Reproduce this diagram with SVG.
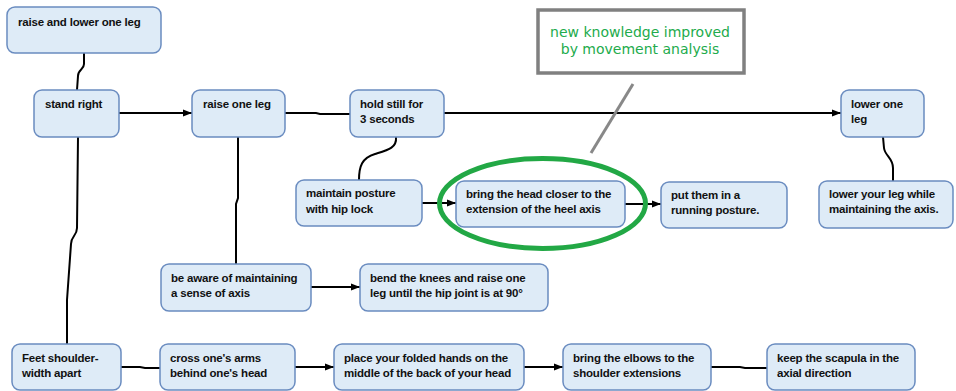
<svg xmlns="http://www.w3.org/2000/svg" width="956" height="391" viewBox="0 0 956 391">
<style>
.n rect{fill:#deebf7;stroke:#6a8cc0;stroke-width:1.5}
.n text{font-family:"Liberation Sans",Arial,sans-serif;font-weight:bold;font-size:11.5px;letter-spacing:-0.2px;fill:#111}
.c path{fill:none;stroke:#000;stroke-width:2}
.a{marker-end:url(#ah)}
.note text{font-family:"DejaVu Sans",sans-serif;font-size:14px;fill:#22ab4c;text-anchor:middle}
</style>
<defs>
<marker id="ah" viewBox="0 0 10 10" refX="10" refY="5" markerWidth="4.5" markerHeight="4.5" orient="auto" markerUnits="strokeWidth">
<path d="M0,1 L10,5 L0,9 z" fill="#000"/>
</marker>
</defs>
<rect width="956" height="391" fill="#fff"/>
<g class="c" id="connectors">
<path d="M84,53 L84,64 C84,70 78,69 78,76 L77,90"/>
<path class="a" d="M119,113 L192,113"/>
<path d="M285,113 L316,113 L320,114 L350,114"/>
<path class="a" d="M444,113 L841,113"/>
<path d="M396,137 C397,148 388,150 375,154 C362,158 359,166 359,180"/>
<path d="M78,137 L77,228 C77,236 71,236 71,244 L67,300 L67,344"/>
<path d="M238,137 L238,198 L236,204 L236,264"/>
<path class="a" d="M422,203 L456,203"/>
<path class="a" d="M625,204 L661,204"/>
<path d="M883,137 L884,148 C885,156 893,158 893,168 L893,181"/>
<path class="a" d="M311,287 L360,287"/>
<path d="M121,367 L140,367 L145,368 L160,368"/>
<path class="a" d="M295,367 L334,367"/>
<path class="a" d="M524,367 L563,367"/>
<path d="M711,367 L740,367 L745,368 L767,368"/>
</g>
<g class="n" id="n-raise-lower"><rect x="7" y="7" width="154" height="46" rx="8"/><text x="18" y="26">raise and lower one leg</text></g>
<g class="n" id="n-stand-right"><rect x="34" y="90" width="85" height="47" rx="8"/><text x="45" y="108">stand right</text></g>
<g class="n" id="n-raise-one"><rect x="192" y="90" width="93" height="47" rx="8"/><text x="203" y="108">raise one leg</text></g>
<g class="n" id="n-hold-still"><rect x="350" y="90" width="94" height="47" rx="8"/><text x="360" y="108">hold still for</text><text x="360" y="123">3 seconds</text></g>
<g class="n" id="n-lower-one"><rect x="841" y="90" width="83" height="47" rx="8"/><text x="851" y="108">lower one</text><text x="851" y="123">leg</text></g>
<g class="n" id="n-maintain"><rect x="296" y="180" width="126" height="46" rx="8"/><text x="306" y="197">maintain posture</text><text x="306" y="213">with hip lock</text></g>
<g class="n" id="n-bring-head"><rect x="456" y="181" width="169" height="46" rx="8"/><text x="466" y="198">bring the head closer to the</text><text x="466" y="213">extension of the heel axis</text></g>
<g class="n" id="n-put-them"><rect x="661" y="182" width="126" height="46" rx="8"/><text x="671" y="199">put them in a</text><text x="671" y="214">running posture.</text></g>
<g class="n" id="n-lower-leg"><rect x="819" y="181" width="134" height="47" rx="8"/><text x="829" y="198">lower your leg while</text><text x="829" y="213">maintaining the axis.</text></g>
<g class="n" id="n-aware"><rect x="161" y="264" width="150" height="47" rx="8"/><text x="171" y="282">be aware of maintaining</text><text x="171" y="297">a sense of axis</text></g>
<g class="n" id="n-bend"><rect x="360" y="264" width="188" height="47" rx="8"/><text x="370" y="282">bend the knees and raise one</text><text x="370" y="297">leg until the hip joint is at 90°</text></g>
<g class="n" id="n-feet"><rect x="12" y="344" width="109" height="46" rx="8"/><text x="22" y="362">Feet shoulder-</text><text x="22" y="377">width apart</text></g>
<g class="n" id="n-cross"><rect x="160" y="344" width="135" height="46" rx="8"/><text x="170" y="362">cross one's arms</text><text x="170" y="377">behind one's head</text></g>
<g class="n" id="n-place"><rect x="334" y="344" width="190" height="46" rx="8"/><text x="344" y="362">place your folded hands on the</text><text x="344" y="377">middle of the back of your head</text></g>
<g class="n" id="n-elbows"><rect x="563" y="344" width="148" height="46" rx="8"/><text x="573" y="362">bring the elbows to the</text><text x="573" y="377">shoulder extensions</text></g>
<g class="n" id="n-scapula"><rect x="767" y="344" width="148" height="46" rx="8"/><text x="777" y="362">keep the scapula in the</text><text x="777" y="377">axial direction</text></g>
<g id="highlight">
<ellipse cx="542.5" cy="203.5" rx="103" ry="45" fill="none" stroke="#22a845" stroke-width="5"/>
</g>
<g class="note" id="note">
<rect x="538" y="10" width="206" height="63" fill="#fff" stroke="#808080" stroke-width="3.5"/>
<text x="640" y="37">new knowledge improved</text>
<text x="640" y="54">by movement analysis</text>
<path d="M633,84 L591,153" stroke="#888" stroke-width="3" fill="none"/>
</g>
</svg>
